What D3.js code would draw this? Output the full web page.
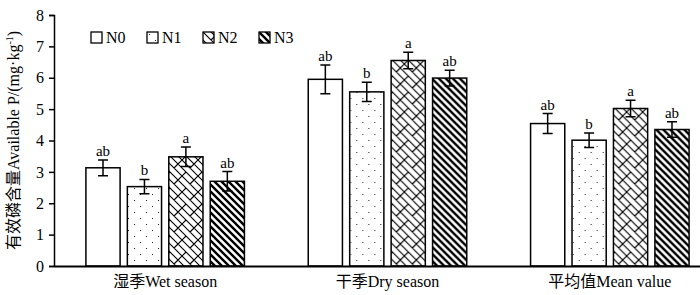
<!DOCTYPE html>
<html>
<head>
<meta charset="utf-8">
<script src="https://cdn.jsdelivr.net/npm/d3@7"></script>
<style>
  body { margin: 0; background: #fff; }
  text { font-family: "Liberation Serif", "Times New Roman", "Noto Sans CJK SC", serif; fill: #000; }
</style>
</head>
<body>
<svg id="chart"></svg>
<script>
const categories = ["湿季Wet season", "干季Dry season", "平均值Mean value"];
const seriesNames = ["N0", "N1", "N2", "N3"];
const values = [
  [3.13, 2.53, 3.48, 2.70],
  [5.95, 5.55, 6.55, 5.99],
  [4.54, 4.01, 5.02, 4.35]
];
const errors = [
  [0.25, 0.23, 0.31, 0.31],
  [0.46, 0.31, 0.26, 0.25],
  [0.32, 0.23, 0.26, 0.25]
];
const letters = [
  ["ab", "b", "a", "ab"],
  ["ab", "b", "a", "ab"],
  ["ab", "b", "a", "ab"]
];
const yTicks = [0, 1, 2, 3, 4, 5, 6, 7, 8];

const width = 700, height = 295;
const margin = { top: 15, right: -21, bottom: 29, left: 54 };

const svg = d3.select("#chart").attr("width", width).attr("height", height);
const defs = svg.append("defs");

// N1: sparse staggered dots
const pDots = defs.append("pattern").attr("id", "p1").attr("patternUnits", "userSpaceOnUse")
  .attr("width", 12).attr("height", 12);
pDots.append("rect").attr("width", 12).attr("height", 12).attr("fill", "#fff");
pDots.append("rect").attr("x", 2).attr("y", 2).attr("width", 1).attr("height", 1).attr("fill", "#222");
pDots.append("rect").attr("x", 8).attr("y", 8).attr("width", 1).attr("height", 1).attr("fill", "#222");

// N2: diagonal brick weave
const P = 8, T = 2 * P;
const pWeave = defs.append("pattern").attr("id", "p2").attr("patternUnits", "userSpaceOnUse")
  .attr("width", T).attr("height", T);
pWeave.append("rect").attr("width", T).attr("height", T).attr("fill", "#fff");
pWeave.append("path")
  .attr("d", `M-1,-1L${T + 1},${T + 1} M${P - 1},-1L${T + 1},${P + 1} M-1,${P - 1}L${P + 1},${T + 1}` +
    ` M${T - 1},-1L${T + 1},1 M-1,${T - 1}L1,${T + 1}` +
    ` M${P},${P}L${1.5 * P},${0.5 * P} M${T},0L${1.5 * P},${0.5 * P}` +
    ` M0,${T}L${0.5 * P},${1.5 * P}`)
  .attr("stroke", "#000").attr("stroke-width", 1.1).attr("fill", "none");

// N3: thick diagonal stripes
const pStripe = defs.append("pattern").attr("id", "p3").attr("patternUnits", "userSpaceOnUse")
  .attr("width", 7).attr("height", 7);
pStripe.append("rect").attr("width", 7).attr("height", 7).attr("fill", "#fff");
pStripe.append("path").attr("d", "M0,0 L7,7 M-3.5,3.5 L3.5,10.5 M3.5,-3.5 L10.5,3.5")
  .attr("stroke", "#000").attr("stroke-width", 2.4);

const fills = ["#fff", "url(#p1)", "url(#p2)", "url(#p3)"];

const x = d3.scaleBand()
  .domain(categories)
  .range([margin.left, width - margin.right])
  .paddingInner(0).paddingOuter(0);

const xs = d3.scaleBand()
  .domain(seriesNames)
  .range([0, x.bandwidth()])
  .paddingInner(0.175).paddingOuter(0.77);

const y = d3.scaleLinear()
  .domain([0, 8])
  .range([height - margin.bottom, margin.top]);

// bars
const groups = svg.append("g").selectAll("g")
  .data(categories)
  .join("g")
  .attr("transform", d => `translate(${x(d)},0)`);

groups.each(function (cat, ci) {
  const g = d3.select(this);
  seriesNames.forEach((s, si) => {
    const v = values[ci][si], e = errors[ci][si];
    const bx = xs(s), bw = xs.bandwidth(), cx = bx + bw / 2;
    g.append("rect")
      .attr("x", bx).attr("y", y(v))
      .attr("width", bw).attr("height", y(0) - y(v))
      .attr("fill", fills[si]).attr("stroke", "#000").attr("stroke-width", 1.5);
    g.append("path")
      .attr("d", `M${cx - 5},${y(v + e)}H${cx + 5}M${cx},${y(v + e)}V${y(v - e)}M${cx - 5},${y(v - e)}H${cx + 5}`)
      .attr("stroke", "#000").attr("stroke-width", 1.5).attr("fill", "none");
    g.append("text")
      .attr("x", cx).attr("y", y(v + e) - 4)
      .attr("text-anchor", "middle").attr("font-size", 15)
      .text(letters[ci][si]);
  });
});

// y axis
const yAxis = svg.append("g")
  .attr("transform", `translate(${margin.left},0)`)
  .call(d3.axisLeft(y).tickValues(yTicks).tickFormat(d3.format("d")).tickSizeOuter(0).tickSize(5));
yAxis.attr("font-family", null).attr("font-size", null);
yAxis.select(".domain").attr("stroke-width", 1.5);
yAxis.selectAll(".tick line").attr("stroke-width", 1.5);
yAxis.selectAll(".tick text").attr("font-size", 16).attr("x", -10);

// x axis
const xAxis = svg.append("g")
  .attr("transform", `translate(0,${y(0)})`)
  .call(d3.axisBottom(x).tickSize(0).tickSizeOuter(0));
xAxis.attr("font-family", null).attr("font-size", null);
xAxis.select(".domain").attr("stroke-width", 2);
xAxis.selectAll(".tick text").attr("font-size", 16).attr("dy", "1.15em");

// y label
const yl = svg.append("text")
  .attr("transform", `translate(19,${y(4)}) rotate(-90)`)
  .attr("text-anchor", "middle").attr("font-size", 16);
yl.append("tspan").text("有效磷含量Available P/(mg·kg");
yl.append("tspan").attr("font-size", 10).attr("dy", -6).text("-1");
yl.append("tspan").attr("dy", 6).text(")");

// legend
const legend = svg.append("g").attr("transform", "translate(91,32)");
seriesNames.forEach((s, i) => {
  const lg = legend.append("g").attr("transform", `translate(${i * 56},0)`);
  lg.append("rect").attr("width", 11).attr("height", 11)
    .attr("fill", fills[i]).attr("stroke", "#000").attr("stroke-width", 1.3);
  lg.append("text").attr("x", 15).attr("y", 11).attr("font-size", 16).text(s);
});
</script>
</body>
</html>
